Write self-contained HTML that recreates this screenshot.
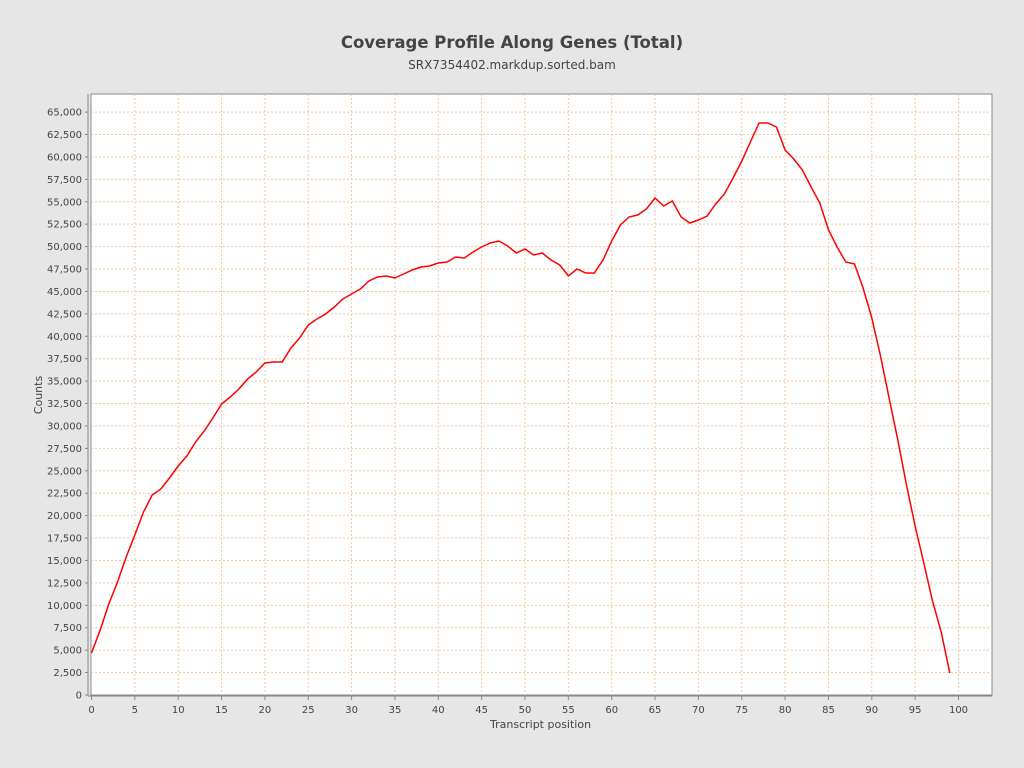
<!DOCTYPE html><html><head><meta charset="utf-8"><style>html,body{margin:0;padding:0;overflow:hidden;background:#e6e6e6}svg{display:block}</style></head><body>
<svg width="1024" height="768" xmlns="http://www.w3.org/2000/svg" font-family="DejaVu Sans, Liberation Sans, sans-serif">
<rect width="1024" height="768" fill="#e6e6e6"/>
<text x="512" y="48" text-anchor="middle" font-size="16.5" font-weight="bold" fill="#444">Coverage Profile Along Genes (Total)</text>
<text x="512" y="69" text-anchor="middle" font-size="12" fill="#444">SRX7354402.markdup.sorted.bam</text>
<rect x="91" y="94" width="901" height="601" fill="#fff" stroke="#888"/>
<line x1="88" y1="94" x2="88" y2="696" stroke="#888"/>
<line x1="88" y1="696" x2="992" y2="696" stroke="#888"/>
<g id="grid" stroke="#f0c8a0" stroke-dasharray="2,2" stroke-width="1"></g>
<g id="ylab" font-size="10" fill="#444" text-anchor="end"></g>
<g id="xlab" font-size="10" fill="#444" text-anchor="middle"></g>
<text x="490" y="728" font-size="11" fill="#444" text-anchor="start">Transcript position</text>
<text transform="translate(42,395) rotate(-90)" font-size="11" fill="#444" text-anchor="middle">Counts</text>
<polyline id="line" fill="none" stroke="#ff0000" stroke-width="1.5" points=""/>
</svg>
<script>
var ns="http://www.w3.org/2000/svg",g=document.getElementById('grid'),yl=document.getElementById('ylab'),xl=document.getElementById('xlab');
function el(p,t,a){var e=document.createElementNS(ns,t);for(var k in a)e.setAttribute(k,a[k]);p.appendChild(e);return e;}
for(var i=0;i<=26;i++){var y=695-i*22.42;if(i>0)el(g,'line',{x1:91,x2:992,y1:y,y2:y});
var t=el(yl,'text',{x:82,y:y+3.5});t.textContent=(i*2500).toLocaleString('en-US');el(document.querySelector('svg'),'line',{x1:85,x2:88,y1:y,y2:y,stroke:'#888'});}
for(var j=0;j<=20;j++){var x=91.5+j*43.35;if(j>0)el(g,'line',{x1:x,x2:x,y1:94,y2:695});
var t=el(xl,'text',{x:x,y:713});t.textContent=j*5;el(document.querySelector('svg'),'line',{x1:x,x2:x,y1:696,y2:700,stroke:'#888'});}
var ys=[653,630,604,582,557,535,512,495,489,478,466,456,442,431,418,404,397,389,379,372,363,362,362,348,338,325,319,314,307,299,294,289,281,277,276,278,274,270,267,266,263,262,257,258,252,247,243,241,246,253,249,255,253,260,265,276,269,273,273,260,241,225,217,215,209,198,206,201,217,223,220,216,204,194,178,161,142,123,123,127,150,159,170,187,203,230,247,262,264,288,318,356,398,440,485,526,563,601,632,673];
document.getElementById('line').setAttribute('points',ys.map(function(y,i){return (91.5+i*8.67).toFixed(1)+','+y}).join(' '));
</script>
</body></html>
